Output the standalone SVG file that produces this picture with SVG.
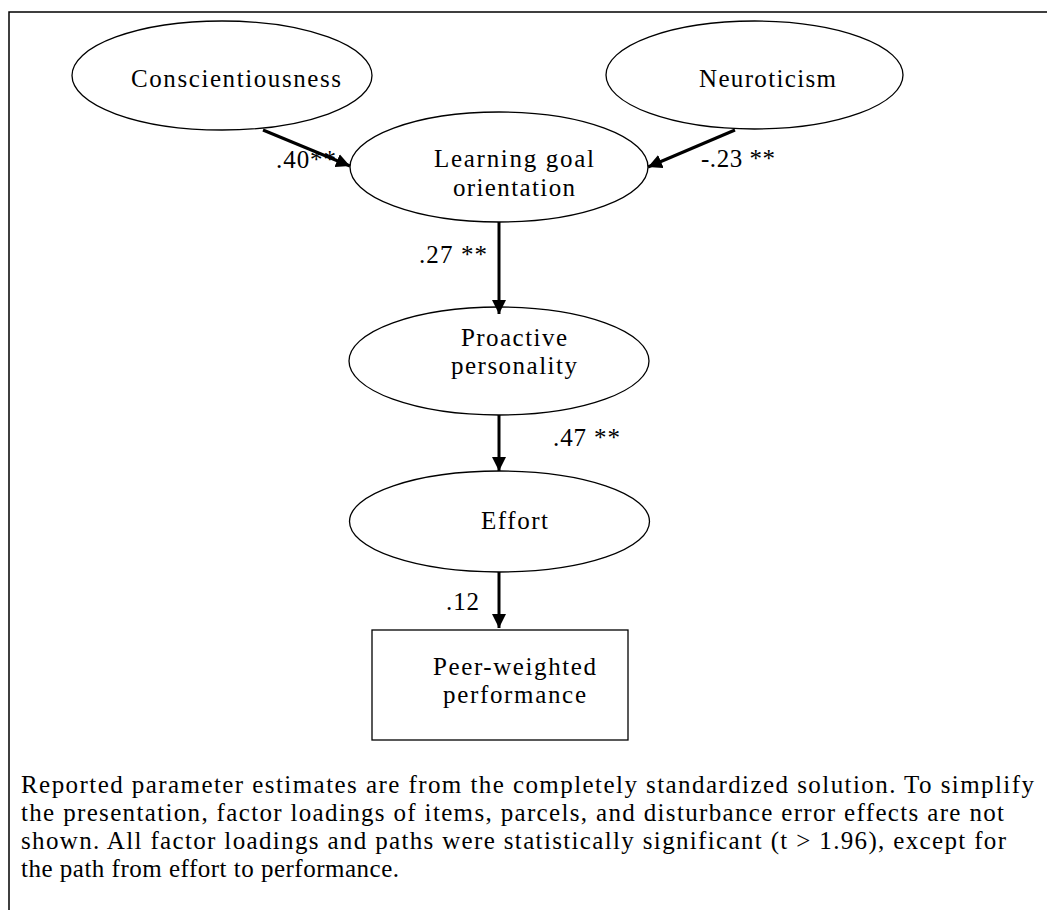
<svg xmlns="http://www.w3.org/2000/svg" width="1047" height="910" viewBox="0 0 1047 910">
<defs>
<style>
.node{fill:#fff;stroke:#000;stroke-width:1.3}
.t{font-family:"Liberation Serif","Times New Roman",serif;font-size:25px;fill:#000}
.conn{stroke:#000;stroke-width:3;fill:none}
</style>
<marker id="ah" viewBox="0 0 14 14" refX="14" refY="7" markerWidth="14" markerHeight="14" markerUnits="userSpaceOnUse" orient="auto">
<path d="M0,0 L14,7 L0,14 Z" fill="#000"/>
</marker>
</defs>
<rect width="1047" height="910" fill="#fff"/>
<g id="frame" stroke="#000" stroke-width="1.5" fill="none">
<path d="M9,910 V12 H1047"/>
</g>
<g id="conscientiousness">
<ellipse class="node" cx="222" cy="75.5" rx="150" ry="54.5"/>
<text class="t" x="131" y="87" textLength="210" lengthAdjust="spacing">Conscientiousness</text>
</g>
<g id="neuroticism">
<ellipse class="node" cx="754.5" cy="75" rx="148.5" ry="54"/>
<text class="t" x="699" y="87" textLength="137" lengthAdjust="spacing">Neuroticism</text>
</g>
<g id="learning-goal-orientation">
<ellipse class="node" cx="499" cy="167" rx="149" ry="55"/>
<text class="t" x="434" y="167" textLength="160" lengthAdjust="spacing">Learning goal</text>
<text class="t" x="453" y="196" textLength="122" lengthAdjust="spacing">orientation</text>
</g>
<g id="proactive-personality">
<ellipse class="node" cx="499" cy="361" rx="150" ry="54"/>
<text class="t" x="461" y="346" textLength="106" lengthAdjust="spacing">Proactive</text>
<text class="t" x="451" y="374" textLength="126" lengthAdjust="spacing">personality</text>
</g>
<g id="effort">
<ellipse class="node" cx="499.5" cy="521.5" rx="150" ry="50.5"/>
<text class="t" x="481" y="529" textLength="67" lengthAdjust="spacing">Effort</text>
</g>
<g id="peer-weighted-performance">
<rect class="node" x="372" y="630" width="256" height="110" stroke-width="1.5"/>
<text class="t" x="433" y="675" textLength="163" lengthAdjust="spacing">Peer-weighted</text>
<text class="t" x="443" y="703" textLength="143" lengthAdjust="spacing">performance</text>
</g>
<g id="connectors">
<line class="conn" x1="263" y1="130" x2="350" y2="166" marker-end="url(#ah)"/>
<line class="conn" x1="735" y1="130" x2="648" y2="167" marker-end="url(#ah)"/>
<line class="conn" x1="499" y1="222" x2="499" y2="314" marker-end="url(#ah)"/>
<line class="conn" x1="499" y1="415" x2="499" y2="471" marker-end="url(#ah)"/>
<line class="conn" x1="499" y1="572" x2="499" y2="628" marker-end="url(#ah)"/>
</g>
<g id="labels">
<text class="t" x="276" y="168" textLength="60" lengthAdjust="spacing">.40**</text>
<text class="t" x="701" y="167" textLength="74" lengthAdjust="spacing">-.23 **</text>
<text class="t" x="419" y="263" textLength="68" lengthAdjust="spacing">.27 **</text>
<text class="t" x="553" y="446" textLength="67" lengthAdjust="spacing">.47 **</text>
<text class="t" x="446" y="610" textLength="33" lengthAdjust="spacing">.12</text>
</g>
<g id="note">
<text class="t" x="21" y="793" textLength="1013" lengthAdjust="spacing">Reported parameter estimates are from the completely standardized solution. To simplify</text>
<text class="t" x="21" y="821" textLength="983" lengthAdjust="spacing">the presentation, factor loadings of items, parcels, and disturbance error effects are not</text>
<text class="t" x="21" y="849" textLength="985" lengthAdjust="spacing">shown. All factor loadings and paths were statistically significant (t &gt; 1.96), except for</text>
<text class="t" x="21" y="877" textLength="378" lengthAdjust="spacing">the path from effort to performance.</text>
</g>
</svg>
